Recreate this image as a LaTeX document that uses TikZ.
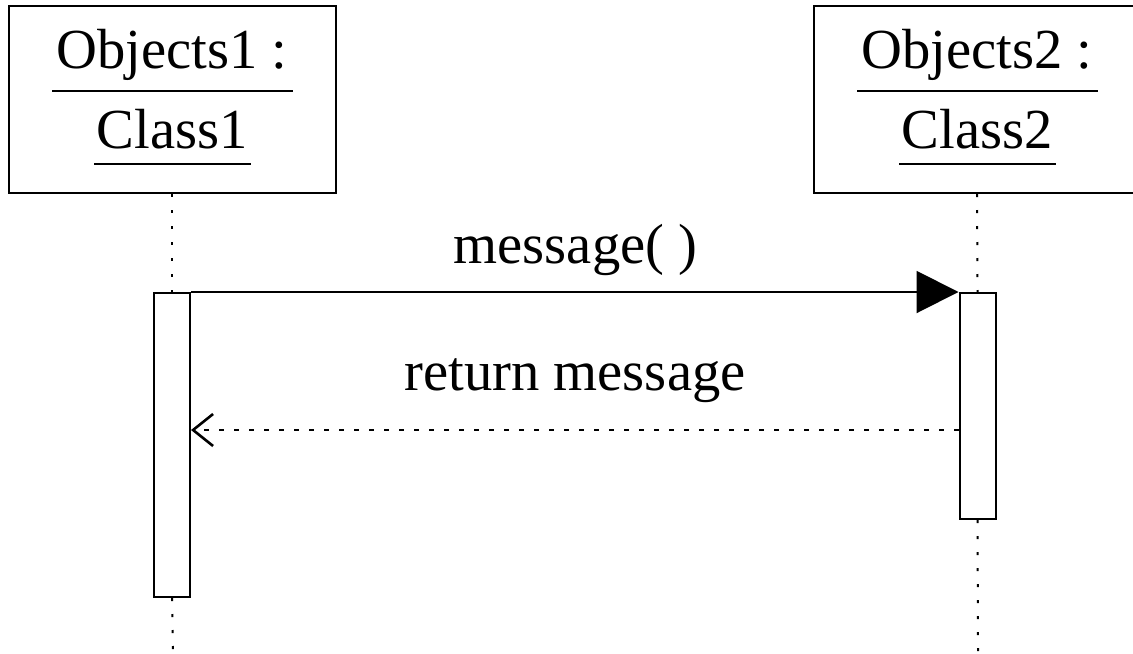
\documentclass[tikz,border=0pt]{standalone}
\usepackage{fontspec}
\setmainfont{Liberation Serif}
\usetikzlibrary{arrows.meta}
\begin{document}
\begin{tikzpicture}[x=0.5pt,y=-0.5pt,
  objbox/.style={draw,line width=1pt,minimum width=163.5pt,minimum height=93.5pt,inner sep=0pt},
  actbox/.style={draw,fill=white,line width=1pt,minimum width=18pt,inner sep=0pt},
  lbl/.style={font=\fontsize{28.3}{34}\selectfont,anchor=base,inner sep=0pt},
  uline/.style={line width=1pt},
  life/.style={line width=1pt,dash pattern=on 1.6pt off 6.4pt},
  msg/.style={line width=1pt,-{Triangle[length=21pt,width=21pt]}},
  ret/.style={line width=1pt,dash pattern=on 2.5pt off 5pt,-{Straight Barb[length=10pt,width=16pt,line width=1.3pt]}}
]
\useasboundingbox (0,0) rectangle (1133,653);
\clip (0,0) rectangle (1133,653);
% object boxes
\node[objbox] (o1) at (172,99.5) {};
\node[objbox,minimum width=163pt] (o2) at (977,99.5) {};
\node[lbl] (t1a) at (172,68) {Objects1 :};
\node[lbl] (t1b) at (172,148) {Class1};
\node[lbl] (t2a) at (977,68) {Objects2 :};
\node[lbl] (t2b) at (977,148) {Class2};
\draw[uline] (52,91) -- (293,91);
\draw[uline] (94,164) -- (251,164);
\draw[uline] (857,91) -- (1098,91);
\draw[uline] (899,164) -- (1056,164);
% activations
\node[actbox,minimum height=152pt] (a1) at (172,445) {};
\node[actbox,minimum height=113pt] (a2) at (977.5,406) {};
% lifelines
\coordinate (e1) at (173,653);
\coordinate (e2) at (978,653);
\draw[life] (o1.south) -- (a1.north);
\draw[life] (a1.south) -- (e1);
\draw[life] (o2.south) -- (a2.north);
\draw[life] (a2.south) -- (e2);
% messages
\draw[msg] (a1.north east) -- (a2.north west);
\node[lbl] (m1) at (575.5,263) {message( )};
\coordinate (r) at (575,430);
\draw[ret] (a2.west |- r) -- (a1.east |- r);
\node[lbl] (m2) at (575,390) {return message};
\end{tikzpicture}
\end{document}
